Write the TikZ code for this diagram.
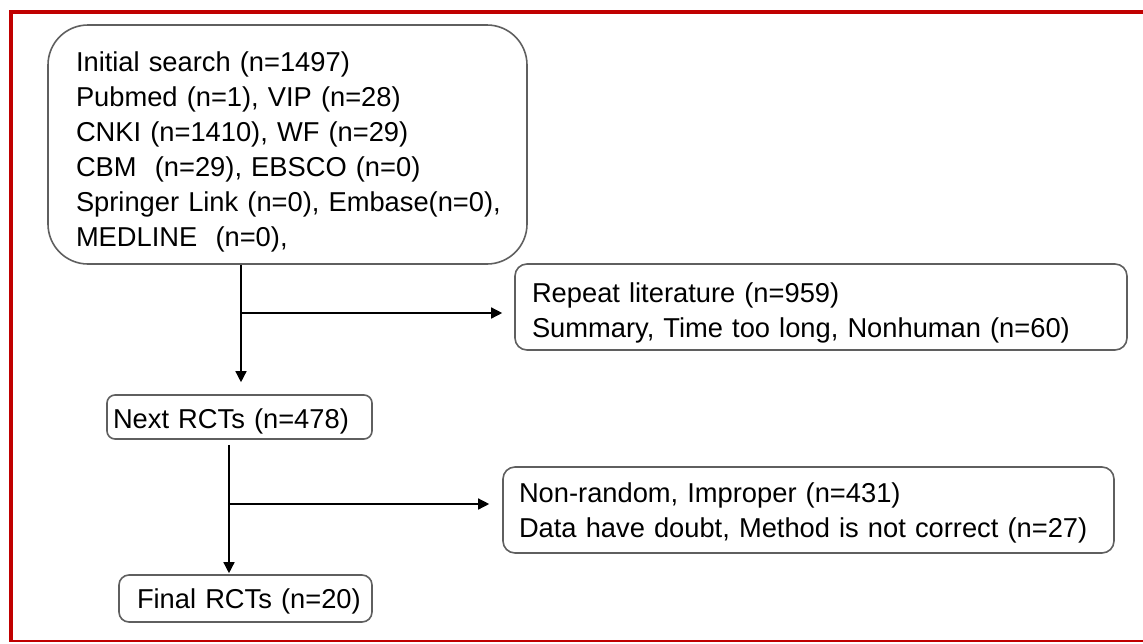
\documentclass[tikz,border=0pt]{standalone}
\usepackage{fontspec}
\setmainfont{Liberation Sans}
\usetikzlibrary{arrows.meta}
\definecolor{framered}{RGB}{192,0,0}
\definecolor{boxgray}{RGB}{95,95,95}
\newcommand{\topstrut}[1]{\rule{0pt}{#1}}
\begin{document}
\begin{tikzpicture}[x=1pt,y=-1pt,
  box/.style={draw=boxgray, line width=1.6pt, rounded corners=#1, align=left,
    inner ysep=0pt, font=\fontsize{27.3}{35}\selectfont},
  arr/.style={draw=black, line width=1.4pt, -{Triangle[length=11pt,width=11pt]}},
  frame/.style={draw=framered}]
\useasboundingbox (0,0) rectangle (1143,643);
% red frame
\draw[frame, line width=4pt] (1143,12) -- (11,12) -- (11,641);
\draw[frame, line width=2.5pt] (9,641) -- (1143,641);
% boxes
\node[box=40pt, minimum width=479pt, minimum height=239pt, text width=423pt,
  inner xsep=28pt] (search) at (287.5,144.5)
  {\topstrut{33.7pt}\mbox{Initial search (n=1497)}\\
   \mbox{Pubmed (n=1), VIP (n=28)}\\
   \mbox{CNKI (n=1410), WF (n=29)}\\
   \mbox{CBM\ \ (n=29), EBSCO (n=0)}\\
   \mbox{Springer Link (n=0), Embase(n=0),}\\
   \mbox{MEDLINE\ \ (n=0),}};
\node[box=12pt, minimum width=612pt, minimum height=86pt, text width=578pt,
  inner xsep=17pt] (repeat) at (821,307)
  {\topstrut{31.7pt}Repeat literature (n=959)\\
   Summary, Time too long, Nonhuman (n=60)};
\node[box=8pt, minimum width=265pt, minimum height=44pt, text width=253pt,
  inner xsep=6pt] (next) at (239.5,417)
  {\topstrut{27.7pt}Next RCTs (n=478)};
\node[box=12pt, minimum width=611pt, minimum height=86pt, text width=579pt,
  inner xsep=16pt] (excl) at (808.5,510)
  {\topstrut{25.7pt}Non-random, Improper (n=431)\\
   Data have doubt, Method is not correct (n=27)};
\node[box=10pt, minimum width=253pt, minimum height=47pt, text width=217pt,
  inner xsep=18pt] (final) at (245.5,598.5)
  {\mbox{\topstrut{24.7pt}Final RCTs (n=20)}};
% connectors
\coordinate (j1) at (241,313);
\coordinate (j2) at (229,504);
\draw[arr, shorten >=12pt] (search.south -| j1) -- (j1 |- next.north);
\draw[arr, shorten >=12pt] (j1) -- (j1 -| repeat.west);
\draw[arr, shorten <=5pt, shorten >=1pt] (next.south -| j2) -- (j2 |- final.north);
\draw[arr, shorten >=13pt] (j2) -- (j2 -| excl.west);
\end{tikzpicture}
\end{document}
